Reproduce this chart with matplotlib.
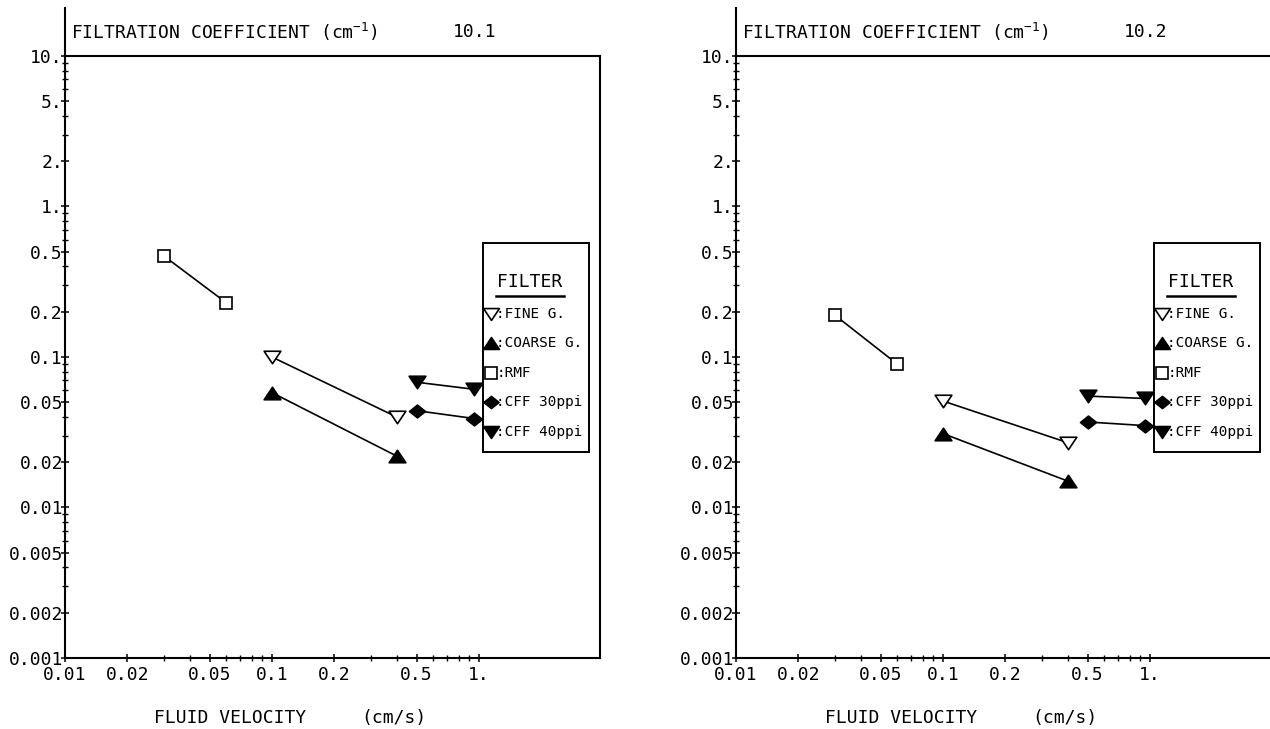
import numpy as np
import matplotlib
matplotlib.use("Agg")
import matplotlib.pyplot as plt
from matplotlib.patches import Rectangle
from matplotlib.path import Path
from matplotlib.ticker import FixedLocator, FixedFormatter, NullFormatter

plt.rcParams['font.family'] = ['DejaVu Sans Mono']
plt.rcParams['mathtext.fontset'] = 'custom'
plt.rcParams['mathtext.rm'] = 'DejaVu Sans Mono'
plt.rcParams['mathtext.it'] = 'DejaVu Sans Mono'

# figure numbers
panels = ["10.1", "10.2"]

# fluid velocity (cm/s)
rmf_v = [0.03, 0.06]
fine_v = [0.1, 0.4]
coarse_v = [0.1, 0.4]
cff_v = [0.5, 0.95]

# filtration coefficient (1/cm), panel 10.1
rmf_1 = [0.47, 0.23]
fine_1 = [0.10, 0.040]
coarse_1 = [0.058, 0.022]
cff30_1 = [0.044, 0.039]
cff40_1 = [0.068, 0.061]

# panel 10.2
rmf_2 = [0.19, 0.09]
fine_2 = [0.051, 0.027]
coarse_2 = [0.031, 0.015]
cff30_2 = [0.037, 0.035]
cff40_2 = [0.055, 0.053]

xticks = [0.01, 0.02, 0.05, 0.1, 0.2, 0.5, 1.0]
xticklabels = ["0.01", "0.02", "0.05", "0.1", "0.2", "0.5", "1."]
xminor = [0.03, 0.04, 0.06, 0.07, 0.08, 0.09, 0.3, 0.4, 0.6, 0.7, 0.8, 0.9]
yticks = [10, 5, 2, 1, 0.5, 0.2, 0.1, 0.05, 0.02, 0.01, 0.005, 0.002, 0.001]
yticklabels = ["10.", "5.", "2.", "1.", "0.5", "0.2", "0.1", "0.05", "0.02",
               "0.01", "0.005", "0.002", "0.001"]
yminor = [k * 10.0 ** e for e in range(-3, 1) for k in (3, 4, 6, 7, 8, 9)]

key_names = [":FINE G.", ":COARSE G.", ":RMF", ":CFF 30ppi", ":CFF 40ppi"]

# plotter style markers
tri_down = Path([(-1, 0.75), (1, 0.75), (0, -0.75), (-1, 0.75)], closed=True)
tri_up = Path([(-1, -0.75), (1, -0.75), (0, 0.75), (-1, -0.75)], closed=True)
diamond = Path([(-1, 0), (0, 0.8), (1, 0), (0, -0.8), (-1, 0)], closed=True)

styles = {
    "fine": dict(marker=tri_down, ms=12, mfc="white"),
    "coarse": dict(marker=tri_up, ms=12, mfc="black"),
    "rmf": dict(marker="s", ms=8.5, mfc="white"),
    "cff30": dict(marker=diamond, ms=11.5, mfc="black"),
    "cff40": dict(marker=tri_down, ms=12, mfc="black"),
}
key_order = ["fine", "coarse", "rmf", "cff30", "cff40"]

fig = plt.figure(figsize=(12.7, 7.29), dpi=100)
ax1 = fig.add_axes([65 / 1270, 1 - 658 / 729, 535 / 1270, 602 / 729])
ax2 = fig.add_axes([736 / 1270, 1 - 658 / 729, 535 / 1270, 602 / 729])

data = [
    (ax1, panels[0], rmf_1, fine_1, coarse_1, cff30_1, cff40_1),
    (ax2, panels[1], rmf_2, fine_2, coarse_2, cff30_2, cff40_2),
]

for ax, num, rmf, fine, coarse, cff30, cff40 in data:
    series = [("rmf", rmf_v, rmf), ("fine", fine_v, fine), ("coarse", coarse_v, coarse),
              ("cff30", cff_v, cff30), ("cff40", cff_v, cff40)]
    for key, xs, ys in series:
        st = styles[key]
        ax.plot(xs, ys, color="black", lw=1.2, zorder=2)
        ax.plot(xs, ys, ls="none", marker=st["marker"], ms=st["ms"],
                mfc=st["mfc"], mec="black", mew=1.2, zorder=3)

    ax.set_xscale("log")
    ax.set_yscale("log")
    ax.set_xlim(0.01, 3.85)
    ax.set_ylim(0.001, 10)

    ax.xaxis.set_major_locator(FixedLocator(xticks))
    ax.xaxis.set_major_formatter(FixedFormatter(xticklabels))
    ax.xaxis.set_minor_locator(FixedLocator(xminor))
    ax.xaxis.set_minor_formatter(NullFormatter())
    ax.yaxis.set_major_locator(FixedLocator(yticks))
    ax.yaxis.set_major_formatter(FixedFormatter(yticklabels))
    ax.yaxis.set_minor_locator(FixedLocator(yminor))
    ax.yaxis.set_minor_formatter(NullFormatter())

    ax.tick_params(which="major", direction="inout", length=6, width=1.1, labelsize=13)
    ax.tick_params(which="minor", direction="inout", length=4, width=1.0)
    ax.tick_params(axis="x", which="major", pad=3)
    ax.tick_params(axis="y", which="major", pad=-1.5)
    ax.tick_params(top=False, right=False, which="both")

    for s in ax.spines.values():
        s.set_linewidth(1.5)
    if ax is ax2:
        ax.spines["right"].set_visible(False)

    # left axis runs up past the frame
    ax.plot([0, 0], [1, 1.08], transform=ax.transAxes, color="black",
            lw=1.5, clip_on=False)
    ax.text(0.012, 1.04, "FILTRATION COEFFICIENT (cm$^{-1}$)", transform=ax.transAxes,
            ha="left", va="center", fontsize=13)
    ax.text(0.765, 1.04, num, transform=ax.transAxes, ha="center", va="center", fontsize=13)

    ax.text(0.308, -0.1, "FLUID VELOCITY", transform=ax.transAxes,
            ha="center", va="center", fontsize=13)
    ax.text(0.554, -0.1, "(cm/s)", transform=ax.transAxes,
            ha="left", va="center", fontsize=13)

    # key box
    ax.add_patch(Rectangle((0.781, 0.342), 0.199, 0.347, transform=ax.transAxes,
                           facecolor="white", edgecolor="black", lw=1.4, zorder=5))
    ax.text(0.869, 0.624, "FILTER", transform=ax.transAxes, ha="center", va="center",
            fontsize=13, zorder=6)
    ax.plot([0.806, 0.932], [0.601, 0.601], transform=ax.transAxes, color="black",
            lw=1.8, zorder=6)
    for i, (key, name) in enumerate(zip(key_order, key_names)):
        st = styles[key]
        y = 0.572 - 0.049 * i
        ax.plot([0.797], [y], transform=ax.transAxes, ls="none", marker=st["marker"],
                ms=st["ms"] * 0.95, mfc=st["mfc"], mec="black", mew=1.2, zorder=6,
                clip_on=False)
        ax.text(0.806, y, name, transform=ax.transAxes, ha="left", va="center",
                fontsize=10.4, zorder=6)

fig.savefig("out.png", dpi=100)
